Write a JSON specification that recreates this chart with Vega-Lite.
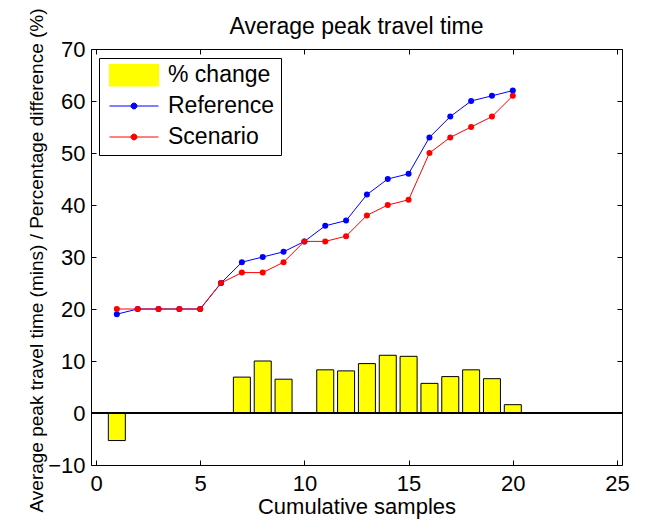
{
  "$schema": "https://vega.github.io/schema/vega-lite/v6.json",
  "width": 531,
  "height": 416,
  "autosize": {"type": "none"},
  "padding": {"left": 91, "top": 49, "right": 24, "bottom": 58},
  "background": "white",
  "title": {
    "text": "Average peak travel time",
    "font": "Liberation Sans",
    "fontSize": 23,
    "fontWeight": "normal",
    "color": "black",
    "baseline": "alphabetic",
    "anchor": "middle",
    "frame": "group",
    "offset": 0,
    "dy": 49
  },
  "config": {
    "view": {"stroke": null},
    "font": "Liberation Sans",
    "axis": {
      "grid": false,
      "domainColor": "black",
      "domainWidth": 1,
      "tickColor": "black",
      "tickWidth": 1,
      "tickSize": -5,
      "labelFont": "Liberation Sans",
      "labelFontSize": 22,
      "labelColor": "black",
      "labelFlush": false,
      "labelOverlap": false,
      "labelBound": false,
      "titleFont": "Liberation Sans",
      "titleFontSize": 22,
      "titleFontWeight": "normal",
      "titleColor": "black"
    },
    "legend": {
      "orient": "none",
      "legendX": 8,
      "legendY": 9,
      "title": null,
      "direction": "vertical",
      "padding": 6,
      "strokeColor": "black",
      "fillColor": "white",
      "labelFont": "Liberation Sans",
      "labelFontSize": 23,
      "labelColor": "black",
      "labelOffset": 9,
      "symbolOffset": 4,
      "symbolSize": 2401,
      "symbolStrokeWidth": 1,
      "symbolOpacity": 1,
      "clipHeight": 22,
      "rowPadding": 8
    }
  },
  "data": {
    "values": [
      {"sample": 1, "series": "Reference", "value": 19},
      {"sample": 2, "series": "Reference", "value": 20},
      {"sample": 3, "series": "Reference", "value": 20},
      {"sample": 4, "series": "Reference", "value": 20},
      {"sample": 5, "series": "Reference", "value": 20},
      {"sample": 6, "series": "Reference", "value": 25},
      {"sample": 7, "series": "Reference", "value": 29},
      {"sample": 8, "series": "Reference", "value": 30},
      {"sample": 9, "series": "Reference", "value": 31},
      {"sample": 10, "series": "Reference", "value": 33},
      {"sample": 11, "series": "Reference", "value": 36},
      {"sample": 12, "series": "Reference", "value": 37},
      {"sample": 13, "series": "Reference", "value": 42},
      {"sample": 14, "series": "Reference", "value": 45},
      {"sample": 15, "series": "Reference", "value": 46},
      {"sample": 16, "series": "Reference", "value": 53},
      {"sample": 17, "series": "Reference", "value": 57},
      {"sample": 18, "series": "Reference", "value": 60},
      {"sample": 19, "series": "Reference", "value": 61},
      {"sample": 20, "series": "Reference", "value": 62},
      {"sample": 1, "series": "Scenario", "value": 20},
      {"sample": 2, "series": "Scenario", "value": 20},
      {"sample": 3, "series": "Scenario", "value": 20},
      {"sample": 4, "series": "Scenario", "value": 20},
      {"sample": 5, "series": "Scenario", "value": 20},
      {"sample": 6, "series": "Scenario", "value": 25},
      {"sample": 7, "series": "Scenario", "value": 27},
      {"sample": 8, "series": "Scenario", "value": 27},
      {"sample": 9, "series": "Scenario", "value": 29},
      {"sample": 10, "series": "Scenario", "value": 33},
      {"sample": 11, "series": "Scenario", "value": 33},
      {"sample": 12, "series": "Scenario", "value": 34},
      {"sample": 13, "series": "Scenario", "value": 38},
      {"sample": 14, "series": "Scenario", "value": 40},
      {"sample": 15, "series": "Scenario", "value": 41},
      {"sample": 16, "series": "Scenario", "value": 50},
      {"sample": 17, "series": "Scenario", "value": 53},
      {"sample": 18, "series": "Scenario", "value": 55},
      {"sample": 19, "series": "Scenario", "value": 57},
      {"sample": 20, "series": "Scenario", "value": 61},
      {"sample": 1, "series": "% change", "value": -5.3},
      {"sample": 2, "series": "% change", "value": 0},
      {"sample": 3, "series": "% change", "value": 0},
      {"sample": 4, "series": "% change", "value": 0},
      {"sample": 5, "series": "% change", "value": 0},
      {"sample": 6, "series": "% change", "value": 0},
      {"sample": 7, "series": "% change", "value": 6.9},
      {"sample": 8, "series": "% change", "value": 10},
      {"sample": 9, "series": "% change", "value": 6.5},
      {"sample": 10, "series": "% change", "value": 0},
      {"sample": 11, "series": "% change", "value": 8.3},
      {"sample": 12, "series": "% change", "value": 8.1},
      {"sample": 13, "series": "% change", "value": 9.5},
      {"sample": 14, "series": "% change", "value": 11.1},
      {"sample": 15, "series": "% change", "value": 10.9},
      {"sample": 16, "series": "% change", "value": 5.7},
      {"sample": 17, "series": "% change", "value": 7.0},
      {"sample": 18, "series": "% change", "value": 8.3},
      {"sample": 19, "series": "% change", "value": 6.6},
      {"sample": 20, "series": "% change", "value": 1.6}
    ]
  },
  "layer": [
    {
      "transform": [{"filter": "datum.series === '% change'"}],
      "mark": {"type": "bar", "size": 17, "stroke": "black", "strokeWidth": 1, "opacity": 1},
      "encoding": {
        "x": {
          "field": "sample",
          "type": "quantitative",
          "scale": {"domain": [0, 25], "nice": false, "zero": false},
          "axis": {
            "orient": "bottom",
            "values": [0, 5, 10, 15, 20, 25],
            "labelPadding": 13,
            "title": "Cumulative samples",
            "titlePadding": 2
          }
        },
        "y": {
          "field": "value",
          "type": "quantitative",
          "scale": {"domain": [-10, 70], "nice": false, "zero": false},
          "axis": {
            "orient": "left",
            "values": [-10, 0, 10, 20, 30, 40, 50, 60, 70],
            "labelPadding": 11,
            "title": "Average peak travel time (mins) / Percentage difference (%)",
            "titleFont": "Liberation Sans",
            "titleFontSize": 19,
            "titleAngle": 270,
            "titleAlign": "left",
            "titleBaseline": "alphabetic",
            "titleX": -49,
            "titleY": 463
          }
        },
        "color": {
          "field": "series",
          "type": "nominal",
          "scale": {"domain": ["% change", "Reference", "Scenario"], "range": ["#ffff00", "#0000ff", "#ff0000"]}
        }
      }
    },
    {
      "mark": {"type": "rule", "color": "black", "strokeWidth": 1},
      "encoding": {
        "y": {"datum": 0, "type": "quantitative", "axis": null}
      }
    },
    {
      "transform": [{"filter": "datum.series !== '% change'"}],
      "mark": {"type": "line", "strokeWidth": 1, "point": {"filled": true, "size": 36, "opacity": 1}},
      "encoding": {
        "x": {
          "field": "sample",
          "type": "quantitative",
          "axis": {"orient": "top", "values": [0, 5, 10, 15, 20, 25], "labels": false, "title": null}
        },
        "y": {
          "field": "value",
          "type": "quantitative",
          "axis": {"orient": "right", "values": [-10, 0, 10, 20, 30, 40, 50, 60, 70], "labels": false, "title": null}
        },
        "color": {"field": "series", "type": "nominal"}
      }
    },
    {
      "transform": [{"filter": "false"}],
      "mark": {"type": "point", "filled": true, "opacity": 1},
      "encoding": {
        "shape": {
          "field": "series",
          "type": "nominal",
          "scale": {
            "domain": ["% change", "Reference", "Scenario"],
            "range": [
              "M-1,-0.449H1V0.449H-1Z",
              "M-1,0H1M-0.12,0A0.12,0.12 0 1,0 0.12,0A0.12,0.12 0 1,0 -0.12,0",
              "M-1,0H1M-0.12,0A0.12,0.12 0 1,0 0.12,0A0.12,0.12 0 1,0 -0.12,0"
            ]
          }
        },
        "color": {"field": "series", "type": "nominal"}
      }
    }
  ],
  "resolve": {"axis": {"x": "independent", "y": "independent"}}
}
